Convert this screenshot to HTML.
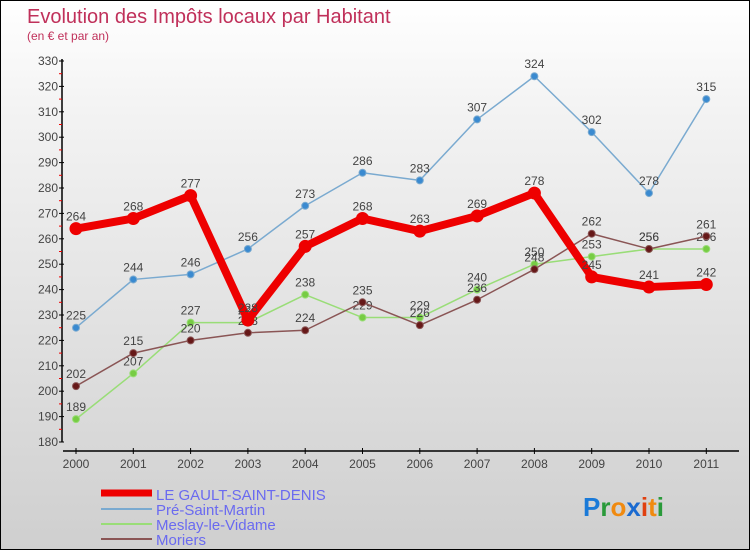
<!DOCTYPE html>
<html><head><meta charset="utf-8"><style>
body{margin:0}
#c{width:750px;height:550px;position:relative;font-family:"Liberation Sans",sans-serif;background:linear-gradient(#fff,#f3f3f3 20%,#cfcfcf);border:1px solid #000;box-sizing:border-box;overflow:hidden}
</style></head><body>
<div id="c">
<svg width="750" height="550" id="s">
<text x="26" y="22" font-size="20" fill="#c0305a">Evolution des Impôts locaux par Habitant</text>
<text x="26" y="39" font-size="12" fill="#c0305a">(en € et par an)</text>
<g id="axes"></g><g id="series"></g>
<g>
<line x1="100" y1="492" x2="151" y2="492" stroke="#e00" stroke-width="7"/>
<text x="155" y="499" font-size="15" fill="#6a6af0">LE GAULT-SAINT-DENIS</text>
<line x1="100" y1="508" x2="151" y2="508" stroke="#7aaad0" stroke-width="2"/>
<text x="155" y="514" font-size="15" fill="#6a6af0">Pré-Saint-Martin</text>
<line x1="100" y1="523" x2="151" y2="523" stroke="#99dd77" stroke-width="2"/>
<text x="155" y="529" font-size="15" fill="#6a6af0">Meslay-le-Vidame</text>
<line x1="100" y1="538" x2="151" y2="538" stroke="#8a5555" stroke-width="2"/>
<text x="155" y="544" font-size="15" fill="#6a6af0">Moriers</text>
</g>
<text x="582" y="515" font-size="26" font-weight="bold"><tspan fill="#1a7ad8">P</tspan><tspan fill="#2a9a3a">r</tspan><tspan fill="#f08a10">o</tspan><tspan fill="#1a6ad0">x</tspan><tspan fill="#e04010">i</tspan><tspan fill="#f08a10">t</tspan><tspan fill="#2a9a3a">i</tspan></text>
</svg>
</div>
<script>
const years=["2000","2001","2002","2003","2004","2005","2006","2007","2008","2009","2010","2011"];
const yTicks=[180,190,200,210,220,230,240,250,260,270,280,290,300,310,320,330];
const gault=[264,268,277,228,257,268,263,269,278,245,241,242];
const pre=[225,244,246,256,273,286,283,307,324,302,278,315];
const meslay=[189,207,227,227,238,229,229,240,250,253,256,256];
const moriers=[202,215,220,223,224,235,226,236,248,262,256,261];
const NS="http://www.w3.org/2000/svg";
function X(i){return 75+i*57.3;}
function Y(v){return 441-(v-180)*2.54;}
function mk(t,a,p){const e=document.createElementNS(NS,t);for(const k in a)e.setAttribute(k,a[k]);p.appendChild(e);return e;}
const ax=document.getElementById('axes');
let l=mk('line',{x1:61,y1:58,x2:61,y2:441,stroke:'#000','stroke-width':1.5},ax);


l=mk('line',{x1:62,y1:450,x2:738,y2:450,stroke:'#000','stroke-width':1.5},ax);


yTicks.forEach(v=>{
 mk('line',{x1:58,y1:Y(v),x2:63,y2:Y(v),stroke:'#000'},ax);
 if(v<330)mk('line',{x1:58,y1:Y(v+5),x2:61,y2:Y(v+5),stroke:'#e00'},ax);
 const t=mk('text',{x:57,y:Y(v)+4,'font-size':12,fill:'#444','text-anchor':'end'},ax);t.textContent=v;
 
 
});
years.forEach((y,i)=>{
 mk('line',{x1:X(i),y1:447,x2:X(i),y2:453,stroke:'#000'},ax);
 const t=mk('text',{x:X(i),y:467,'font-size':12,fill:'#444','text-anchor':'middle'},ax);t.textContent=y;
 
 
});
const sg=document.getElementById('series');
function draw(d,name,color,w,r,dot){
 const g=mk('g',{},sg);
 
 
 mk('polyline',{points:d.map((v,i)=>X(i)+','+Y(v)).join(' '),fill:'none',stroke:color,'stroke-width':w,'stroke-linejoin':'round'},g);
 d.forEach((v,i)=>{
  const c=mk('circle',{cx:X(i),cy:Y(v),r:r,fill:dot,stroke:color,'stroke-width':1},g);
  
  
  const t=mk('text',{x:X(i),y:Y(v)-8,'font-size':12,fill:'#444','text-anchor':'middle'},g);t.textContent=v;
  
  
 });
}
draw(pre,'pre-saint-martin','#7aaad0',1.5,3.5,'#3a8ad0');
draw(meslay,'meslay-le-vidame','#99dd77',1.5,3.5,'#77cc44');
draw(moriers,'moriers','#8a5555',1.5,3.5,'#661818');
draw(gault,'le-gault-saint-denis','#ee0000',8,6,'#ee0000');
</script>
</body></html>
